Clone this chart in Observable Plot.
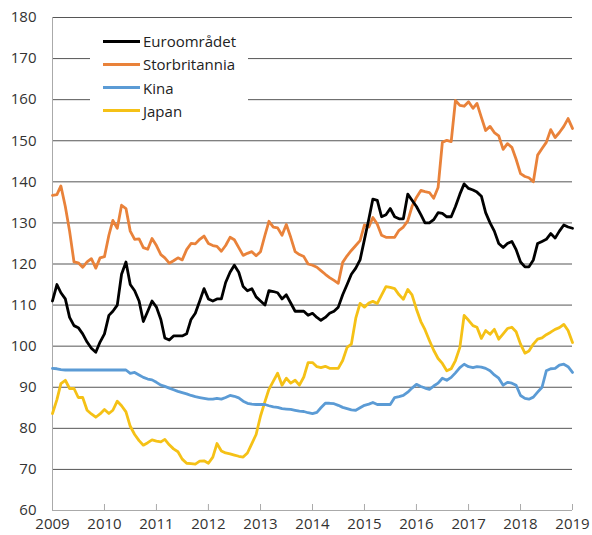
<!DOCTYPE html>
<html><head><meta charset="utf-8">
<script src="https://cdn.jsdelivr.net/npm/d3@7"></script>
<script src="https://cdn.jsdelivr.net/npm/@observablehq/plot@0.6"></script>
<style>
body{margin:0;background:#fff;font-family:"Open Sans",sans-serif;}
#wrap{position:relative;width:592px;height:535px;}
#legend{position:absolute;left:90px;top:26px;width:158px;height:98px;background:#fff;}
.item{position:absolute;left:0;height:20px;display:flex;align-items:center;font-size:15px;color:#222;white-space:nowrap;}
.sw{display:inline-block;width:37px;height:3px;margin-left:13px;margin-right:3px;}
</style></head><body><div id="wrap"></div>
<script>
// Series names and colours
const seriesNames = ["Euroområdet", "Storbritannia", "Kina", "Japan"];
const seriesColors = ["#000000", "#E9823A", "#5B9BD5", "#F5C116"];

// Monthly values, Jan 2009 .. Jan 2019 (121 points)
const euro = [111,115,113,111.5,107,105,104.5,103,101,99.5,98.5,101,
103,107.5,108.5,110,117.5,120.5,115,113.5,111,106,108.5,111,
109.5,106.5,102,101.5,102.5,102.5,102.5,103,106.5,108,111,114,
111.5,111,111.5,111.5,115.5,118,119.7,118,114.5,113.5,114,112,
111,110,113.5,113.3,113,111.5,112.5,110.5,108.5,108.5,108.5,107.5,
108,107,106.3,107,108,108.5,109.5,112.5,115,117.5,119,121,
126,131,135.8,135.5,131.5,132,133.5,131.5,131,131,137,135.5,
134,132,130,130,130.8,132.5,132.3,131.5,131.5,134,137,139.5,
138.4,138,137.5,136.5,132.5,130,128,125,124,125,125.5,123.5,
120.5,119.3,119.3,121,125,125.5,126,127.4,126.3,128,129.5,129,
128.7];
const uk = [136.7,136.9,139,134,128,120.5,120.3,119.2,120.5,121.3,119,121.5,
121.8,127,130.6,128.7,134.3,133.5,128,126,126.1,124,123.6,126.2,
124.5,122.3,121.5,120.2,120.8,121.5,121,123.5,125,124.9,126,126.8,
125,124.5,124.3,123.1,124.5,126.5,125.9,124,122.1,122.6,123,122,
123,127,130.4,129,128.8,127,129.6,126.5,123,122.3,121.8,120,
119.7,119.2,118.4,117.5,116.7,116,115.3,120.4,122,123.3,124.5,125.7,
129.5,129,131.3,129.7,127,126.5,126.5,126.5,128.2,129,130.5,134,
136.2,137.9,137.6,137.4,136,138.6,149.6,150.1,149.8,159.8,158.6,158.4,
159.5,157.9,159.1,155.7,152.5,153.5,152,151.2,147.9,149.3,148.4,145.5,
142,141.3,141,140,146.5,148.1,149.6,152.7,150.8,152,153.5,155.4,
153];
const china = [94.6,94.5,94.3,94.2,94.2,94.2,94.2,94.2,94.2,94.2,94.2,94.2,
94.2,94.2,94.2,94.2,94.2,94.2,93.4,93.6,93,92.4,92,91.8,
91.2,90.5,90.2,89.8,89.4,89,88.7,88.4,88,87.7,87.5,87.3,
87.1,87.1,87.3,87.1,87.5,88,87.8,87.4,86.6,86.1,85.9,85.8,
85.8,85.8,85.5,85.2,85.1,84.8,84.7,84.6,84.4,84.2,84.1,83.8,
83.6,83.9,85,86.1,86.1,86,85.6,85.1,84.8,84.5,84.4,85,
85.6,85.9,86.3,85.8,85.8,85.8,85.8,87.5,87.7,88,88.8,89.8,
90.7,90.2,89.8,89.5,90.3,91,92.2,91.7,92.4,93.5,94.8,95.6,
95,94.8,95,94.9,94.6,94,93,92.2,90.5,91.2,91,90.5,
88,87.3,87.1,87.6,88.8,90,94,94.5,94.6,95.4,95.6,95,
93.6];
const japan = [83.6,87,90.9,91.7,89.7,89.7,87.5,87.5,84.4,83.5,82.7,83.5,
84.6,83.6,84.4,86.6,85.5,84,80.5,78.5,77,75.9,76.5,77.2,
76.9,76.7,77.3,76,75,74.3,72.5,71.5,71.4,71.3,72,72.1,
71.5,73,76.3,74.5,74,73.8,73.5,73.2,73,74,76.3,78.5,
83,86.5,89.5,91.5,93.4,90.5,92.2,91,91.7,90.5,92.5,96,
96,95,94.8,95.1,94.6,94.6,94.6,96.5,99.7,100.5,106.8,110.4,
109.5,110.5,110.9,110.4,112.4,114.5,114.3,114,112.5,111.4,113.8,112.5,
109,106,104,101.4,99,97,95.8,94,94.5,96.5,99.7,107.5,
106.3,105,104.6,101.9,103.8,102.9,104.1,101.7,103,104.3,104.6,103.5,
100.5,98.3,98.8,100.5,101.7,102,102.8,103.4,104.1,104.5,105.3,103.8,
100.9];

const yTicks = [60,70,80,90,100,110,120,130,140,150,160,170,180];
const xYears = [2009,2010,2011,2012,2013,2014,2015,2016,2017,2018,2019];

const seriesValues = [euro, uk, china, japan];
const rows = [];
// draw order: Japan, Kina, Storbritannia, Euroområdet (euro on top)
[3,2,1,0].forEach(k => {
  seriesValues[k].forEach((v, i) => rows.push({date: new Date(Date.UTC(2009, i, 1)), value: v, series: seriesNames[k]}));
});
const yearDates = xYears.map(y => new Date(Date.UTC(y, 0, 1)));

const chart = Plot.plot({
  width: 592, height: 535,
  marginLeft: 52, marginRight: 20, marginTop: 17, marginBottom: 25,
  style: {fontFamily: "'Open Sans', sans-serif", fontSize: "15px", color: "#333", background: "#fff"},
  x: {type: "utc", domain: [yearDates[0], yearDates[yearDates.length - 1]], label: null},
  y: {domain: [yTicks[0], yTicks[yTicks.length - 1]], label: null},
  color: {domain: seriesNames, range: seriesColors},
  marks: [
    Plot.ruleY(yTicks.slice(1), {stroke: "#444", strokeWidth: 1, strokeOpacity: 0.9}),
    Plot.ruleY(yTicks.slice(0, 1), {stroke: "#aaa", strokeWidth: 1}),
    Plot.ruleX(yearDates.slice(0, 1), {stroke: "#aaa", strokeWidth: 1}),
    Plot.axisX({ticks: yearDates, tickSize: -6, stroke: "#aaa", tickFormat: () => "", label: null}),
    Plot.axisX({ticks: yearDates, tickSize: 0, tickPadding: 8, tickFormat: d => String(d.getUTCFullYear()), fill: "#333", label: null}),
    Plot.axisY({ticks: yTicks, tickSize: 0, tickPadding: 16, fill: "#333", label: null}),
    Plot.lineY(rows, {x: "date", y: "value", z: "series", stroke: "series", strokeWidth: 2.8, strokeLinejoin: "round"})
  ]
});

const wrap = document.getElementById("wrap");
wrap.appendChild(chart);
const legend = document.createElement("div");
legend.id = "legend";
seriesNames.forEach((name, i) => {
  const item = document.createElement("div");
  item.className = "item";
  item.style.top = (5 + i * 23.3) + "px";
  const sw = document.createElement("span");
  sw.className = "sw";
  sw.style.background = seriesColors[i];
  const t = document.createElement("span");
  t.textContent = name;
  item.appendChild(sw);
  item.appendChild(t);
  legend.appendChild(item);
});
wrap.appendChild(legend);
</script>
</body></html>
